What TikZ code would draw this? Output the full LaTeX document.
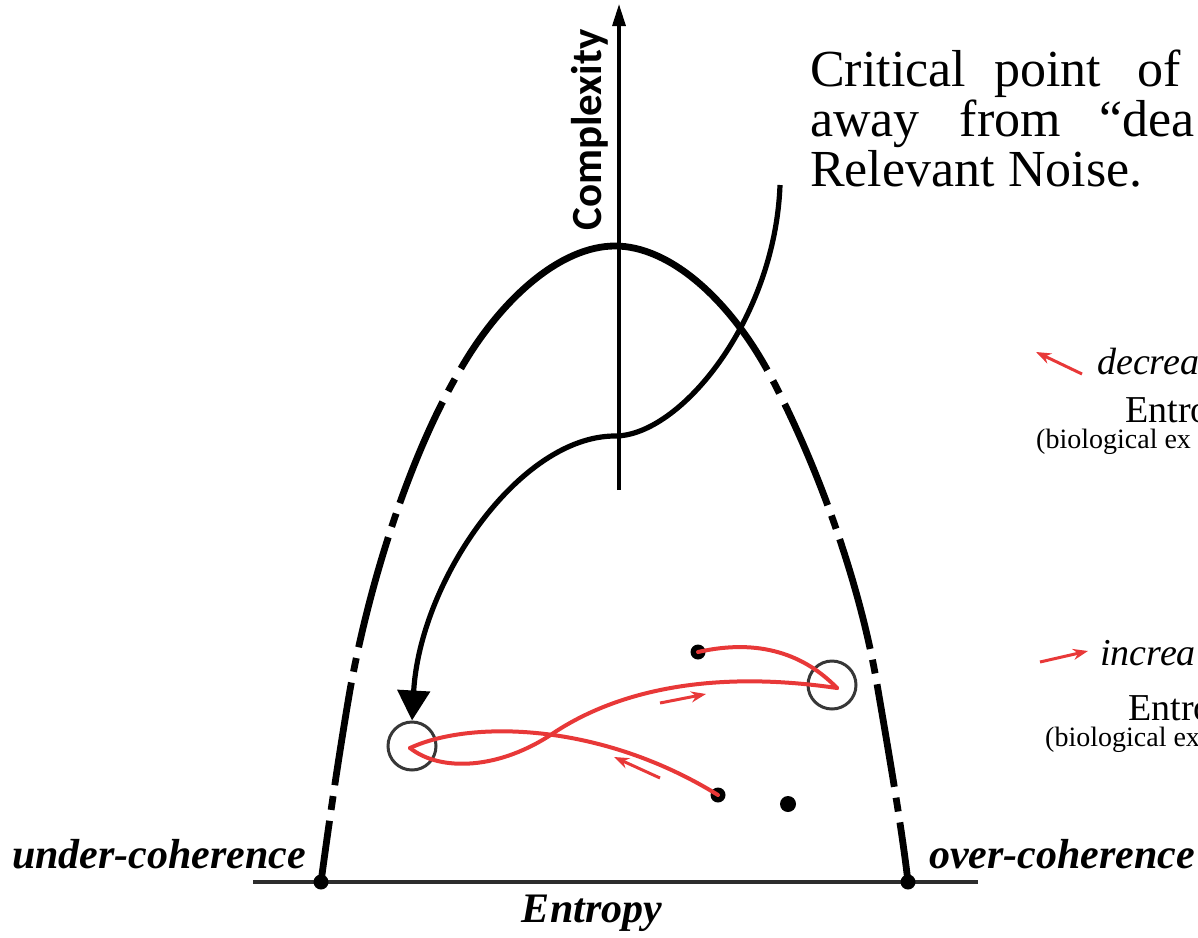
\documentclass[tikz,border=0pt]{standalone}
\usepackage{fontspec}
\setmainfont{Liberation Serif}
\newfontfamily\calib{Carlito}
\usetikzlibrary{arrows.meta}
\definecolor{redc}{RGB}{232,56,56}
\definecolor{circc}{RGB}{55,55,55}
\definecolor{basec}{RGB}{45,45,45}
\begin{document}
\begin{tikzpicture}[x=1pt,y=-1pt,
  parab/.style={line width=6.8pt, line cap=butt},
  scurve/.style={line width=5.2pt, -{Triangle[width=32pt,length=30pt]}},
  axisline/.style={line width=3.2pt, -{Triangle[width=13pt,length=22pt]}},
  redline/.style={redc, line width=4pt, line cap=round},
  redarrow/.style={redc, line width=3pt, -{Stealth[width=11pt,length=15pt]}},
  ring/.style={circle, draw=circc, line width=3pt, minimum size=48pt, inner sep=0pt},
  blackdot/.style={circle, fill=black, minimum size=15pt, inner sep=0pt},
  enddot/.style={circle, fill=black, minimum size=15pt, inner sep=0pt},
  bigtext/.style={anchor=base west, inner sep=0pt, font=\fontsize{52}{58}\selectfont},
  sidelabel/.style={inner sep=0pt, font=\bfseries\itshape\fontsize{42}{48}\selectfont},
  legit/.style={anchor=base west, inner sep=0pt, font=\itshape\fontsize{38}{44}\selectfont},
  legrm/.style={anchor=base west, inner sep=0pt, font=\fontsize{38}{44}\selectfont},
  legsm/.style={anchor=base west, inner sep=0pt, font=\fontsize{28}{32}\selectfont}]
\useasboundingbox (0,0) rectangle (1198,937);
\clip (0,0) rectangle (1198,937);

% base line
\coordinate (bl) at (253,882);
\coordinate (br) at (978,882);
\draw[basec, line width=4.5pt] (bl) -- (br);
\node[enddot] (dl) at (321,882) {};
\node[enddot] (dr) at (908,882) {};

% parabola (dash-dot)
\coordinate (top) at (615,246);
\tikzset{pdash/.style={dash pattern=on 205pt off 12pt on 14pt off 12pt on 110pt off 11pt on 14pt off 11pt on 114pt off 11pt on 14pt off 11pt on 104pt off 11pt on 14pt off 11pt on 200pt}}
\draw[parab, pdash]
  (top) .. controls (560,246) and (500,300) .. (460,370)
        .. controls (410,455) and (370,580) .. (350,690)
        .. controls (338,760) and (328,830) .. (dl.center);
\draw[parab, pdash]
  (top) .. controls (670,246) and (730,300) .. (770,375)
        .. controls (815,460) and (860,580) .. (878,690)
        .. controls (890,760) and (902,830) .. (dr.center);

% complexity axis
\coordinate (axb) at (619,490);
\coordinate (axt) at (619,4);
\draw[axisline] (axb) -- (axt);
\node[rotate=90, font=\calib\bfseries\fontsize{43}{50}\selectfont] (cx) at (590,130) {Complexity};

% circles and dots
\node[ring] (cl) at (412,746) {};
\node[ring] (cr) at (832,685) {};
\node[blackdot] (da) at (698,652) {};
\node[blackdot] (db) at (718,795) {};
\node[blackdot, minimum size=16pt] (dc) at (788,804) {};
\coordinate (pl) at (410,748);
\coordinate (pr) at (837,688);

% S-curve arrow
\coordinate (s0) at (780,185);
\coordinate (s1) at (615,436);
\draw[scurve] (s0) .. controls (775,320) and (680,436) .. (s1)
  .. controls (520,436) and (420,580) .. (cl.north);

% red trajectory
\draw[redline] (da.center) .. controls (760,638) and (805,655) .. (pr);
\draw[redline] (pr) .. controls (700,668) and (610,696) .. (555,732)
  .. controls (500,770) and (440,772) .. (pl);
\draw[redline] (pl) .. controls (470,720) and (600,722) .. (db.center);

% small red arrows
\coordinate (a1t) at (660,703);
\coordinate (a1h) at (706,694);
\coordinate (a2t) at (660,778);
\coordinate (a2h) at (614,757);
\draw[redarrow] (a1t) -- (a1h);
\draw[redarrow] (a2t) -- (a2h);

% top text
\node[bigtext] (t1) at (810,86) {Critical\hspace{28pt}point\hspace{36pt}of};
\node[bigtext] (t2) at (810,136) {away\hspace{40pt}from\hspace{38pt}“dea};
\node[bigtext] (t3) at (810,186) {Relevant Noise.};

% legend
\coordinate (l1t) at (1082,374);
\coordinate (l1h) at (1036,352);
\draw[redarrow] (l1t) -- (l1h);
\node[legit] (dec) at (1097,374) {decrea};
\node[legrm] (en1) at (1125,422) {Entro};
\node[legsm] (bio1) at (1036,448) {(biological ex};

\coordinate (l2t) at (1040,662);
\coordinate (l2h) at (1088,651);
\draw[redarrow] (l2t) -- (l2h);
\node[legit] (inc) at (1100,665) {increa};
\node[legrm] (en2) at (1128,720) {Entro};
\node[legsm] (bio2) at (1045,746) {(biological ex};

% bottom labels
\node[sidelabel, anchor=base west] (uc) at (12,868) {under-coherence};
\node[sidelabel, anchor=base west] (oc) at (929,868) {over-coherence};
\node[sidelabel, anchor=base] (en) at (592,922) {Entropy};
\end{tikzpicture}
\end{document}
